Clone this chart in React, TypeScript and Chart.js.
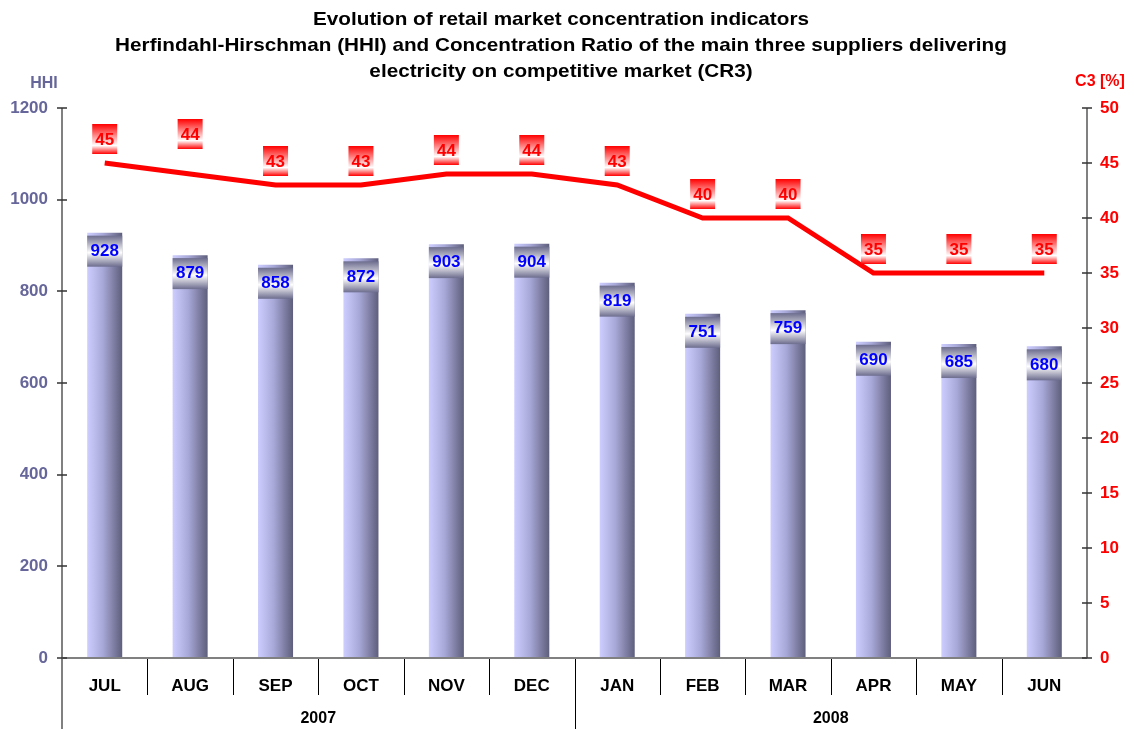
import React, { useEffect, useRef } from "react";
import { Chart, registerables } from "chart.js";

Chart.register(...registerables);

const months = ["JUL", "AUG", "SEP", "OCT", "NOV", "DEC", "JAN", "FEB", "MAR", "APR", "MAY", "JUN"];
const years = ["2007", "2008"];
const yearSpans = [6, 6];
const hhi = [928, 879, 858, 872, 903, 904, 819, 751, 759, 690, 685, 680];
const cr3 = [45, 44, 43, 43, 44, 44, 43, 40, 40, 35, 35, 35];
const titleLines = [
  "Evolution of retail market concentration indicators",
  "Herfindahl-Hirschman (HHI) and Concentration Ratio of the main three suppliers delivering",
  "electricity on competitive market (CR3)",
];
const leftTicks = [0, 200, 400, 600, 800, 1000, 1200];
const rightTicks = [0, 5, 10, 15, 20, 25, 30, 35, 40, 45, 50];
// extra vertical lift of individual line labels (style)
const lineLabelLift = [0, 16, 0, 0, 0, 0, 0, 0, 0, 0, 0, 0];

const FONT = "'Liberation Sans', Arial, sans-serif";
const SLATE = "#66669a";
const BAR_PCT = 0.41;

const decorPlugin = {
  id: "decor",
  afterDatasetsDraw(chart: any) {
    const ctx = chart.ctx;
    const xs = chart.scales.x;
    const ys = chart.scales.y;
    const y1 = chart.scales.y1;
    const catW = xs.width / months.length;
    const bw = catW * BAR_PCT;
    ctx.save();
    // bar labels
    hhi.forEach((v, i) => {
      const cx = xs.getPixelForValue(i);
      const top = ys.getPixelForValue(v);
      const bx = cx - bw / 2;
      const by = top + 3;
      const bh = 31;
      const g = ctx.createLinearGradient(0, by, 0, by + bh);
      g.addColorStop(0, "#6c6c8e");
      g.addColorStop(0.55, "#ffffff");
      g.addColorStop(1, "#6c6c8e");
      ctx.fillStyle = g;
      ctx.fillRect(bx, by, bw, bh);
      ctx.fillStyle = "#0000ff";
      ctx.font = `bold 17px ${FONT}`;
      ctx.textAlign = "center";
      ctx.textBaseline = "middle";
      ctx.fillText(String(v), cx, top + 18.5);
    });
    // line labels
    cr3.forEach((v, i) => {
      const cx = xs.getPixelForValue(i);
      const py = y1.getPixelForValue(v);
      const cy = py - 24 - lineLabelLift[i];
      const w = 25;
      const h = 30;
      const g = ctx.createLinearGradient(0, cy - h / 2, 0, cy + h / 2);
      g.addColorStop(0, "#ff0000");
      g.addColorStop(0.72, "#ffffff");
      g.addColorStop(1, "#ff0000");
      ctx.fillStyle = g;
      ctx.fillRect(cx - w / 2, cy - h / 2, w, h);
      ctx.fillStyle = "#ff0000";
      ctx.font = `bold 17px ${FONT}`;
      ctx.textAlign = "center";
      ctx.textBaseline = "middle";
      ctx.fillText(String(v), cx, cy + 1);
    });
    ctx.restore();
  },
  afterDraw(chart: any) {
    const ctx = chart.ctx;
    const area = chart.chartArea;
    const xs = chart.scales.x;
    const ys = chart.scales.y;
    const y1 = chart.scales.y1;
    const H = chart.height;
    ctx.save();
    // title
    ctx.fillStyle = "#000";
    ctx.font = `bold 19px ${FONT}`;
    ctx.textAlign = "center";
    ctx.textBaseline = "alphabetic";
    titleLines.forEach((t, i) => {
      ctx.save();
      ctx.translate(561, 25 + i * 26);
      ctx.scale(1.09, 1);
      ctx.fillText(t, 0, 0);
      ctx.restore();
    });
    // axis titles
    ctx.font = `bold 16px ${FONT}`;
    ctx.fillStyle = SLATE;
    ctx.fillText("HHI", 44, 88);
    ctx.fillStyle = "#ff0000";
    ctx.fillText("C3 [%]", 1100, 86);
    // separators
    ctx.strokeStyle = "#000";
    ctx.lineWidth = 1;
    let acc = 0;
    const groupEnds = new Set<number>();
    yearSpans.forEach((s) => {
      acc += s;
      groupEnds.add(acc);
    });
    for (let i = 1; i < months.length; i++) {
      const x = Math.round(xs.getPixelForValue(i - 0.5)) + 0.5;
      ctx.beginPath();
      ctx.moveTo(x, area.bottom);
      ctx.lineTo(x, groupEnds.has(i) ? H : area.bottom + 37);
      ctx.stroke();
    }
    // year labels
    ctx.fillStyle = "#000";
    ctx.font = `bold 16px ${FONT}`;
    ctx.textBaseline = "middle";
    let start = 0;
    years.forEach((yr, k) => {
      const a = xs.getPixelForValue(start - 0.5);
      const b = xs.getPixelForValue(start + yearSpans[k] - 0.5);
      ctx.fillText(yr, (a + b) / 2, 719);
      start += yearSpans[k];
    });
    // axis lines
    ctx.strokeStyle = "#808080";
    ctx.lineWidth = 2;
    ctx.beginPath();
    ctx.moveTo(area.left, area.top);
    ctx.lineTo(area.left, H);
    ctx.moveTo(area.right, area.top);
    ctx.lineTo(area.right, area.bottom);
    ctx.moveTo(area.left, area.bottom);
    ctx.lineTo(area.right, area.bottom);
    ctx.stroke();
    // tick marks
    ctx.strokeStyle = "#333";
    ctx.lineWidth = 1.5;
    ctx.beginPath();
    leftTicks.forEach((t) => {
      const y = Math.round(ys.getPixelForValue(t));
      ctx.moveTo(area.left - 5, y);
      ctx.lineTo(area.left + 5, y);
    });
    rightTicks.forEach((t) => {
      const y = Math.round(y1.getPixelForValue(t));
      ctx.moveTo(area.right - 5, y);
      ctx.lineTo(area.right + 5, y);
    });
    ctx.stroke();
    ctx.restore();
  },
};

export default function App() {
  const ref = useRef<HTMLCanvasElement>(null);
  useEffect(() => {
    if (!ref.current) return;
    const chart = new Chart(ref.current, {
      type: "bar",
      data: {
        labels: months,
        datasets: [
          {
            type: "line",
            label: "CR3",
            data: cr3,
            yAxisID: "y1",
            borderColor: "#ff0000",
            borderWidth: 5,
            pointRadius: 0,
            tension: 0,
            order: 0,
          } as any,
          {
            type: "bar",
            label: "HHI",
            data: hhi,
            yAxisID: "y",
            order: 1,
            categoryPercentage: 1,
            barPercentage: BAR_PCT,
            borderWidth: 0,
            backgroundColor: (c: any) => {
              const chart = c.chart;
              const xs = chart.scales?.x;
              if (!xs || c.dataIndex === undefined) return "#9a9acc";
              const cx = xs.getPixelForValue(c.dataIndex);
              const bw = (xs.width / months.length) * BAR_PCT;
              if (!isFinite(cx) || !isFinite(bw) || bw <= 0) return "#9a9acc";
              const g = chart.ctx.createLinearGradient(cx - bw / 2, 0, cx + bw / 2, 0);
              g.addColorStop(0, "#cdcdff");
              g.addColorStop(0.45, "#a8a8d8");
              g.addColorStop(1, "#5e5e7c");
              return g;
            },
          },
        ],
      },
      options: {
        animation: false,
        responsive: true,
        maintainAspectRatio: false,
        layout: { padding: { top: 108, left: 0, right: 0, bottom: 0 } },
        plugins: {
          legend: { display: false },
          title: { display: false },
          tooltip: { enabled: false },
        },
        scales: {
          x: {
            grid: { display: false },
            border: { display: false },
            ticks: {
              color: "#000",
              font: { family: FONT, size: 17, weight: "bold" },
              padding: 10,
              maxRotation: 0,
              autoSkip: false,
            },
            afterFit: (s: any) => {
              s.height = 71;
            },
          },
          y: {
            position: "left",
            min: 0,
            max: 1200,
            grid: { display: false, drawTicks: false },
            border: { display: false },
            ticks: {
              stepSize: 200,
              color: SLATE,
              font: { family: FONT, size: 17, weight: "bold" },
              padding: 14,
              callback: (v: any) => String(v),
            },
            afterFit: (s: any) => {
              s.width = 62;
            },
          },
          y1: {
            position: "right",
            min: 0,
            max: 50,
            grid: { display: false, drawTicks: false },
            border: { display: false },
            ticks: {
              stepSize: 5,
              color: "#ff0000",
              font: { family: FONT, size: 17, weight: "bold" },
              padding: 13,
              callback: (v: any) => String(v),
            },
            afterFit: (s: any) => {
              s.width = 47;
            },
          },
        },
      },
      plugins: [decorPlugin],
    });
    return () => chart.destroy();
  }, []);
  return (
    <div style={{ position: "absolute", left: 0, top: 0, width: 1134, height: 729 }}>
      <canvas ref={ref} />
    </div>
  );
}
